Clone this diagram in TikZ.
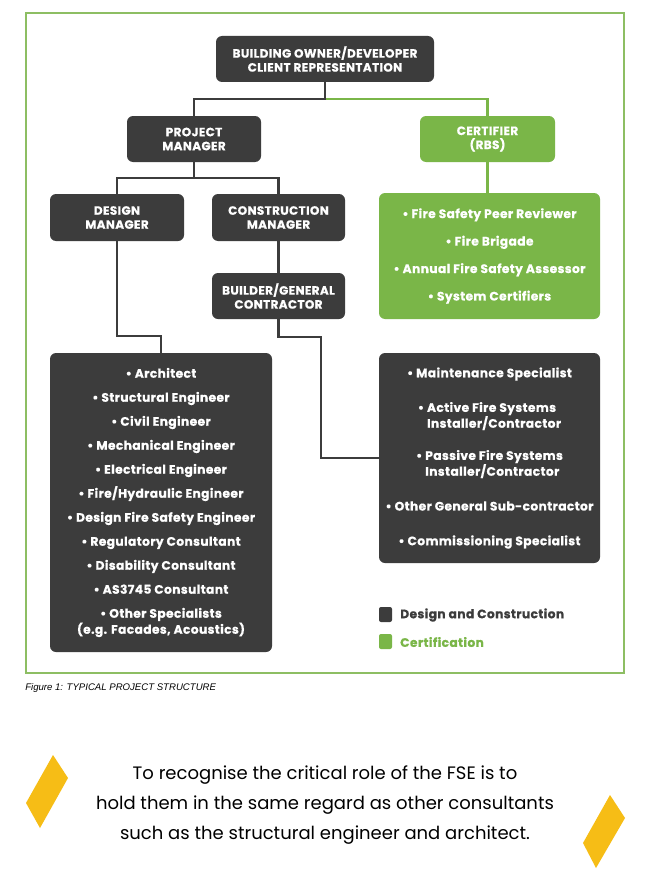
\documentclass[tikz,border=0pt]{standalone}
\usepackage{fontspec}
\setmainfont{Poppins}
\newfontfamily\bx{Poppins}[LetterSpace=3,BoldFeatures={FakeBold=0.6}]
\newfontfamily\capfont{Liberation Sans}
\definecolor{dk}{HTML}{3C3C3C}
\definecolor{gn}{HTML}{7AB648}
\definecolor{fr}{HTML}{8DBE63}
\definecolor{yl}{HTML}{F6BD16}
\begin{document}
\begin{tikzpicture}[x=0.75pt,y=-0.75pt,
  box/.style={rounded corners=4.5pt,inner sep=0pt,text=white,align=center,
    font=\bx\fontsize{9}{10.5}\selectfont\bfseries},
  dbox/.style={box,fill=dk},
  gbox/.style={box,fill=gn},
  item/.style={text=white,align=center,inner sep=0pt,font=\bx\fontsize{9.2}{10.5}\selectfont\bfseries},
  dline/.style={draw=dk,line width=1.6pt},
  gline/.style={draw=gn,line width=1.6pt},
  legend/.style={anchor=west,inner sep=0pt,font=\bx\fontsize{9.2}{10.5}\selectfont\bfseries}]
\useasboundingbox (0,0) rectangle (658,881);
\fill[white] (0,0) rectangle (658,881);
\draw[fr,line width=0.9pt] (26,13) rectangle (624,673);
% boxes
\node[dbox,minimum width=163.5pt,minimum height=34.5pt] (top) at (325,59) {BUILDING OWNER/DEVELOPER\\CLIENT REPRESENTATION};
\node[dbox,minimum width=100.5pt,minimum height=34.5pt] (pm) at (194,139) {PROJECT\\MANAGER};
\node[gbox,minimum width=101.25pt,minimum height=34.5pt] (cert) at (487.5,139) {CERTIFIER\\(RBS)};
\node[dbox,minimum width=100.5pt,minimum height=35.25pt] (dm) at (117,217.5) {DESIGN\\MANAGER};
\node[dbox,minimum width=99.75pt,minimum height=35.25pt] (cm) at (278.5,217.5) {CONSTRUCTION\\MANAGER};
\node[dbox,minimum width=99.75pt,minimum height=34.5pt] (bgc) at (278.5,296) {BUILDER/GENERAL\\CONTRACTOR};
\node[gbox,minimum width=165.75pt,minimum height=94.5pt,font=\bx\fontsize{9.2}{20.6}\selectfont\bfseries] (glist) at (489.5,256)
  {• Fire Safety Peer Reviewer\\• Fire Brigade\\• Annual Fire Safety Assessor\\• System Certifiers};
\node[dbox,minimum width=166.5pt,minimum height=224.25pt,font=\bx\fontsize{9.2}{18}\selectfont\bfseries] (dlist) at (161,502.5)
  {• Architect\\• Structural Engineer\\• Civil Engineer\\• Mechanical Engineer\\• Electrical Engineer\\• Fire/Hydraulic Engineer\\• Design Fire Safety Engineer\\• Regulatory Consultant\\• Disability Consultant\\• AS3745 Consultant\\• Other Specialists\\[-6pt](e.g. Facades, Acoustics)};
\node[dbox,minimum width=165.75pt,minimum height=157.5pt] (clist) at (489.5,458) {};
\node[item] (c1) at (489.5,374) {• Maintenance Specialist};
\node[item] (c2) at (489.5,417) {\begin{tabular}{@{}l@{}}• Active Fire Systems\\\hphantom{• }Installer/Contractor\end{tabular}};
\node[item] (c3) at (489.5,465) {\begin{tabular}{@{}l@{}}• Passive Fire Systems\\\hphantom{• }Installer/Contractor\end{tabular}};
\node[item] (c4) at (489.5,506) {• Other General Sub-contractor};
\node[item] (c5) at (489.5,542) {• Commissioning Specialist};
% connectors
\coordinate (j1) at (325,99);
\coordinate (j2) at (194,178);
\coordinate (j3) at (161,336);
\coordinate (j4) at (321,337);
\draw[gline] (j1) -| (cert.north);
\draw[dline] (top.south) -- (j1) -| (pm.north);
\draw[dline] (pm.south) -- (j2) -| (dm.north);
\draw[dline] (j2) -| (cm.north);
\draw[dline] (cm.south) -- (bgc.north);
\draw[gline] (cert.south) -- (cert.south |- glist.north);
\draw[dline] (dm.south) |- (j3) -- (dlist.north);
\draw[dline] (bgc.south) |- (j4) |- (clist.west);
% legend
\fill[dk,rounded corners=1.5pt] (379,607) rectangle (392,622);
\node[legend,text=dk] (l1) at (400,615) {Design and Construction};
\fill[gn,rounded corners=1.5pt] (379,634) rectangle (392,649);
\node[legend,text=gn] (l2) at (400,642) {Certification};
% caption
\node[anchor=west,inner sep=0pt,font=\capfont\itshape\fontsize{7.2}{8}\selectfont,text=black] (cap) at (25,688) {Figure 1: TYPICAL PROJECT STRUCTURE};
% diamonds
\fill[yl] (53,755) -- (68,778) -- (40,828) -- (26,803) -- cycle;
\fill[yl] (610,795) -- (625,818) -- (596,868) -- (583,843) -- cycle;
% quote
\node[align=center,inner sep=0pt,font=\fontsize{13.5}{22.5}\selectfont,text=black] (quote) at (325,805)
  {To recognise the critical role of the FSE is to\\hold them in the same regard as other consultants\\such as the structural engineer and architect.};
\end{tikzpicture}
\end{document}
